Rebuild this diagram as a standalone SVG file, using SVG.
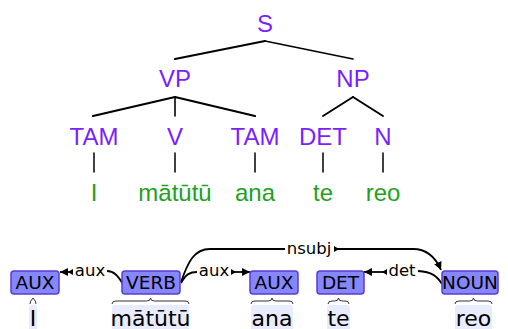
<svg xmlns="http://www.w3.org/2000/svg" width="508" height="329" viewBox="0 0 508 329">
  <style>
    .cat { font-family: "Liberation Sans", Arial, sans-serif; font-size: 24px; fill: #7b1fff; text-anchor: middle; }
    .leaf { font-family: "Liberation Sans", Arial, sans-serif; font-size: 24px; fill: #22a022; text-anchor: middle; }
    .edge { stroke: #000; fill: none; stroke-linecap: round; }
    .pos { fill: #8686ff; stroke: #5a3ccf; stroke-width: 1.5; }
    .posl { font-family: "DejaVu Sans", Verdana, sans-serif; font-size: 18.5px; fill: #000; text-anchor: middle; }
    .hl { fill: #e9ecff; }
    .word { font-family: "DejaVu Sans", Verdana, sans-serif; font-size: 22px; fill: #000; text-anchor: middle; }
    .brace { stroke: #333; stroke-width: 1; fill: none; }
    .arc { stroke: #000; stroke-width: 1.8; fill: none; }
    .arcl { font-family: "DejaVu Sans", Verdana, sans-serif; font-size: 16.5px; fill: #000; text-anchor: middle; }
  </style>
  <defs>
    <marker id="head" markerUnits="userSpaceOnUse" markerWidth="9" markerHeight="9" refX="8" refY="4" orient="auto">
      <path d="M0,0 L8,4 L0,8 z" fill="#000"/>
    </marker>
    <marker id="tick" markerUnits="userSpaceOnUse" markerWidth="6" markerHeight="7" refX="0" refY="3" orient="auto">
      <path d="M0,0 L5,3 L0,6 z" fill="#000"/>
    </marker>
  </defs>

  <!-- constituency tree -->
  <g id="tree-edges">
    <line class="edge" x1="265" y1="41" x2="175" y2="59" stroke-width="2.2"/>
    <line class="edge" x1="265" y1="41" x2="353" y2="59" stroke-width="1.6"/>
    <line class="edge" x1="175" y1="97" x2="93" y2="116" stroke-width="2.2"/>
    <line class="edge" x1="175" y1="97" x2="175" y2="116" stroke-width="1.6"/>
    <line class="edge" x1="175" y1="97" x2="255" y2="116" stroke-width="2.2"/>
    <line class="edge" x1="353" y1="97" x2="323" y2="116" stroke-width="1.9"/>
    <line class="edge" x1="353" y1="97" x2="383" y2="116" stroke-width="1.9"/>
    <line class="edge" x1="94" y1="153" x2="94" y2="172" stroke-width="1.5"/>
    <line class="edge" x1="175" y1="153" x2="175" y2="172" stroke-width="1.5"/>
    <line class="edge" x1="255" y1="153" x2="255" y2="172" stroke-width="1.5"/>
    <line class="edge" x1="323" y1="153" x2="323" y2="172" stroke-width="1.5"/>
    <line class="edge" x1="383" y1="153" x2="383" y2="172" stroke-width="1.5"/>
  </g>
  <g id="t-S"><text class="cat" x="265" y="32">S</text></g>
  <g id="t-VP"><text class="cat" x="175" y="87">VP</text></g>
  <g id="t-NP"><text class="cat" x="353" y="87">NP</text></g>
  <g id="t-TAM1"><text class="cat" x="94" y="145">TAM</text></g>
  <g id="t-V"><text class="cat" x="175" y="145">V</text></g>
  <g id="t-TAM2"><text class="cat" x="255" y="145">TAM</text></g>
  <g id="t-DET"><text class="cat" x="323" y="145">DET</text></g>
  <g id="t-N"><text class="cat" x="383" y="145">N</text></g>
  <g id="t-w1"><text class="leaf" x="94" y="201">I</text></g>
  <g id="t-w2"><text class="leaf" x="175" y="201">mātūtū</text></g>
  <g id="t-w3"><text class="leaf" x="255" y="201">ana</text></g>
  <g id="t-w4"><text class="leaf" x="323" y="201">te</text></g>
  <g id="t-w5"><text class="leaf" x="383" y="201">reo</text></g>

  <!-- dependency arcs -->
  <g id="arcs">
    <!-- aux: VERB -> AUX (left) -->
    <path class="arc" d="M123,284 C118,276 114,271 107,271"/>
    <text class="arcl" x="90" y="276">aux</text>
    <path class="arc" d="M73,272 L60,272" marker-start="url(#tick)" marker-end="url(#head)"/>
    <!-- aux: VERB -> AUX (right) -->
    <path class="arc" d="M181,283 C186,274 190,272 197,272"/>
    <text class="arcl" x="214" y="276">aux</text>
    <path class="arc" d="M231,272 L250,272" marker-start="url(#tick)" marker-end="url(#head)"/>
    <!-- nsubj: VERB -> NOUN -->
    <path class="arc" d="M181,282 C188,262 194,249 210,249 L285,249"/>
    <text class="arcl" x="309" y="254">nsubj</text>
    <path class="arc" d="M334,249 L413,249 C426,249 435,256 441,270" marker-start="url(#tick)" marker-end="url(#head)"/>
    <!-- det: NOUN -> DET -->
    <path class="arc" d="M442,284 C437,276 432,272 418,271"/>
    <text class="arcl" x="402" y="276">det</text>
    <path class="arc" d="M387,272 L364,272" marker-start="url(#tick)" marker-end="url(#head)"/>
  </g>

  <!-- tokens with POS tags -->
  <g id="d-AUX1">
    <rect class="pos" x="11" y="271" width="48" height="23" rx="3"/>
    <text class="posl" x="35" y="289">AUX</text>
    <path class="brace" d="M30,304 Q30,301 33,298 Q36,301 36,304"/>
    <rect class="hl" x="29" y="305" width="8" height="30" rx="3"/>
    <text class="word" x="33" y="326">I</text>
  </g>
  <g id="d-VERB">
    <rect class="pos" x="122" y="271" width="58" height="23" rx="3"/>
    <text class="posl" x="151" y="289">VERB</text>
    <path class="brace" d="M112,304 Q112,301 116,301 L146.5,301 Q150.5,301 150.5,298 Q150.5,301 154.5,301 L185,301 Q189,301 189,304"/>
    <rect class="hl" x="112" y="305" width="77" height="30" rx="3"/>
    <text class="word" x="150.5" y="326">mātūtū</text>
  </g>
  <g id="d-AUX2">
    <rect class="pos" x="250" y="271" width="48" height="23" rx="3"/>
    <text class="posl" x="274" y="289">AUX</text>
    <path class="brace" d="M251,304 Q251,301 255,301 L268,301 Q272,301 272,298 Q272,301 276,301 L289,301 Q293,301 293,304"/>
    <rect class="hl" x="251" y="305" width="42" height="30" rx="3"/>
    <text class="word" x="272" y="326">ana</text>
  </g>
  <g id="d-DET">
    <rect class="pos" x="317" y="271" width="47" height="23" rx="3"/>
    <text class="posl" x="340.5" y="289">DET</text>
    <path class="brace" d="M328,304 Q328,301 332,301 L334.5,301 Q338.5,301 338.5,298 Q338.5,301 342.5,301 L345,301 Q349,301 349,304"/>
    <rect class="hl" x="327" y="305" width="23" height="30" rx="3"/>
    <text class="word" x="338.5" y="326">te</text>
  </g>
  <g id="d-NOUN">
    <rect class="pos" x="442" y="271" width="56" height="23" rx="3"/>
    <text class="posl" x="470" y="289">NOUN</text>
    <path class="brace" d="M455,304 Q455,301 459,301 L469.5,301 Q473.5,301 473.5,298 Q473.5,301 477.5,301 L488,301 Q492,301 492,304"/>
    <rect class="hl" x="455" y="305" width="37" height="30" rx="3"/>
    <text class="word" x="473.5" y="326">reo</text>
  </g>
</svg>
